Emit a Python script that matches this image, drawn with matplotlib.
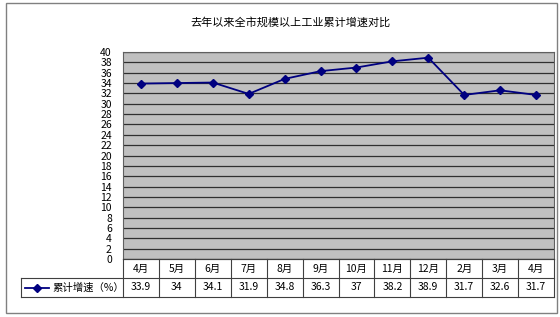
import matplotlib
matplotlib.use("Agg")
import matplotlib.pyplot as plt
from matplotlib.patches import Rectangle
from matplotlib.lines import Line2D

plt.rcParams['font.family'] = ['Noto Sans CJK SC', 'DejaVu Sans']

title = "去年以来全市规模以上工业累计增速对比"
months = ["4月", "5月", "6月", "7月", "8月", "9月", "10月", "11月", "12月", "2月", "3月", "4月"]
growth = [33.9, 34, 34.1, 31.9, 34.8, 36.3, 37, 38.2, 38.9, 31.7, 32.6, 31.7]
series_name = "累计增速（%）"
yticks = list(range(0, 41, 2))

W, H = 560, 317
fig = plt.figure(figsize=(W / 100, H / 100), dpi=100)
fig.patch.set_facecolor("white")

def fx(x):
    return x / W

def fy(y):
    return 1 - y / H

# outer border
fig.add_artist(Rectangle((fx(6), fy(313)), fx(557) - fx(6), fy(3) - fy(313),
                         transform=fig.transFigure, fill=False, edgecolor="#808080", lw=1.0))

left, right, top, bottom = 123, 554, 52, 259
ax = fig.add_axes([fx(left), fy(bottom), fx(right) - fx(left), fy(top) - fy(bottom)])
ax.set_facecolor("#C0C0C0")
n = len(months)
xs = [i + 0.5 for i in range(n)]
ax.set_xlim(0, n)
ax.set_ylim(0, 40)
for t in yticks:
    ax.axhline(t, color="#303030", lw=0.9, zorder=1)
ax.plot(xs, growth, color="#000080", lw=1.3, marker="D", markersize=4.5,
        markerfacecolor="#000080", markeredgecolor="#000080", zorder=3)
ax.set_yticks(yticks)
ax.set_yticklabels([str(t) for t in yticks], fontsize=7.5)
ax.tick_params(axis="y", length=0, pad=8)
ax.set_xticks([])
for s in ax.spines.values():
    s.set_color("#606060")
    s.set_linewidth(0.8)

fig.text(0.518, fy(22), title, ha="center", va="center", fontsize=8)

# table
tleft, tbot = 21, 297
colw = (right - left) / n
label_w = (left - tleft) / colw
tax = fig.add_axes([fx(tleft), fy(tbot), fx(right) - fx(tleft), fy(bottom) - fy(tbot)])
tax.set_xlim(-label_w, n)
tax.set_ylim(0, 2)
tax.axis("off")
lc = "#404040"
# horizontal lines
tax.plot([0, n], [2, 2], color=lc, lw=0.8, clip_on=False)
tax.plot([-label_w, n], [1, 1], color=lc, lw=0.8, clip_on=False)
tax.plot([-label_w, n], [0, 0], color=lc, lw=0.8, clip_on=False)
tax.plot([-label_w, -label_w], [0, 1], color=lc, lw=0.8, clip_on=False)
for i in range(n + 1):
    tax.plot([i, i], [0, 2], color=lc, lw=0.8, clip_on=False)
for i, (m, v) in enumerate(zip(months, growth)):
    tax.text(i + 0.5, 1.5, m, ha="center", va="center", fontsize=7.5)
    tax.text(i + 0.5, 0.5, f"{v:g}", ha="center", va="center", fontsize=7.5)
# legend key in label cell
kx0 = -label_w + 4 / colw
kx1 = -label_w + 28 / colw
tax.add_line(Line2D([kx0, kx1], [0.5, 0.5], color="#000080", lw=1.3))
tax.plot([(kx0 + kx1) / 2], [0.5], marker="D", markersize=4, color="#000080")
tax.text(-label_w + 31 / colw, 0.5, series_name, ha="left", va="center", fontsize=7.5)

fig.savefig("out.png", dpi=100)
